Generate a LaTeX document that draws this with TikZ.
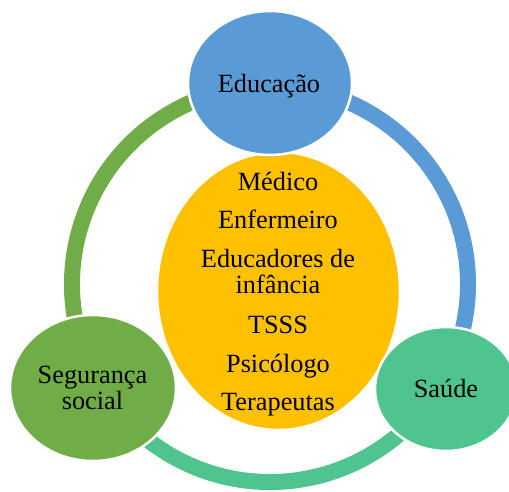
\documentclass[tikz,border=0pt]{standalone}
\usepackage{fontspec}
\setmainfont{Liberation Serif}
\usetikzlibrary{shapes.geometric}
\definecolor{cblue}{RGB}{91,155,213}
\definecolor{cgreen}{RGB}{112,173,71}
\definecolor{cteal}{RGB}{80,196,142}
\definecolor{cyellow}{RGB}{255,192,0}
\tikzset{
  blob/.style={ellipse, draw=white, line width=2.5pt, inner sep=0pt},
  ring/.style={line width=16pt},
  lbl/.style={anchor=base, inner sep=0pt, font=\fontsize{26.3}{26}\selectfont, text=black}
}
\begin{document}
\begin{tikzpicture}[x=1pt,y=-1pt]
\useasboundingbox (0,0) rectangle (509,491);
\coordinate (C) at (270,284);
% ring arcs
\draw[ring, cblue]  (C) ++(-90:198) arc[start angle=-90, end angle=30, radius=198];
\draw[ring, cteal]  (C) ++(30:198)  arc[start angle=30, end angle=150, radius=198];
\draw[ring, cgreen] (C) ++(150:198) arc[start angle=150, end angle=270, radius=198];
% center
\node[blob, fill=cyellow, minimum width=243pt, minimum height=278pt] (mid) at (278.5,291) {};
% outer nodes
\node[blob, fill=cblue, minimum width=164pt, minimum height=144pt] (edu) at (270,83) {};
\node[blob, fill=cgreen, minimum width=166pt, minimum height=146pt] (seg) at (93,388) {};
\node[blob, fill=cteal, minimum width=142pt, minimum height=124pt] (sau) at (446,389) {};
% labels
\node[lbl] (edut) at (269,92) {Educação};
\node[lbl] (segt1) at (92.5,383) {Segurança};
\node[lbl] (segt2) at (92.5,409) {social};
\node[lbl] (saut) at (446,397) {Saúde};
\node[lbl] (m1) at (278,190) {Médico};
\node[lbl] (m2) at (278,228) {Enfermeiro};
\node[lbl] (m3) at (278,267) {Educadores de};
\node[lbl] (m4) at (278,293) {infância};
\node[lbl] (m5) at (278,333) {TSSS};
\node[lbl] (m6) at (278,372) {Psicólogo};
\node[lbl] (m7) at (278,410) {Terapeutas};
\end{tikzpicture}
\end{document}
